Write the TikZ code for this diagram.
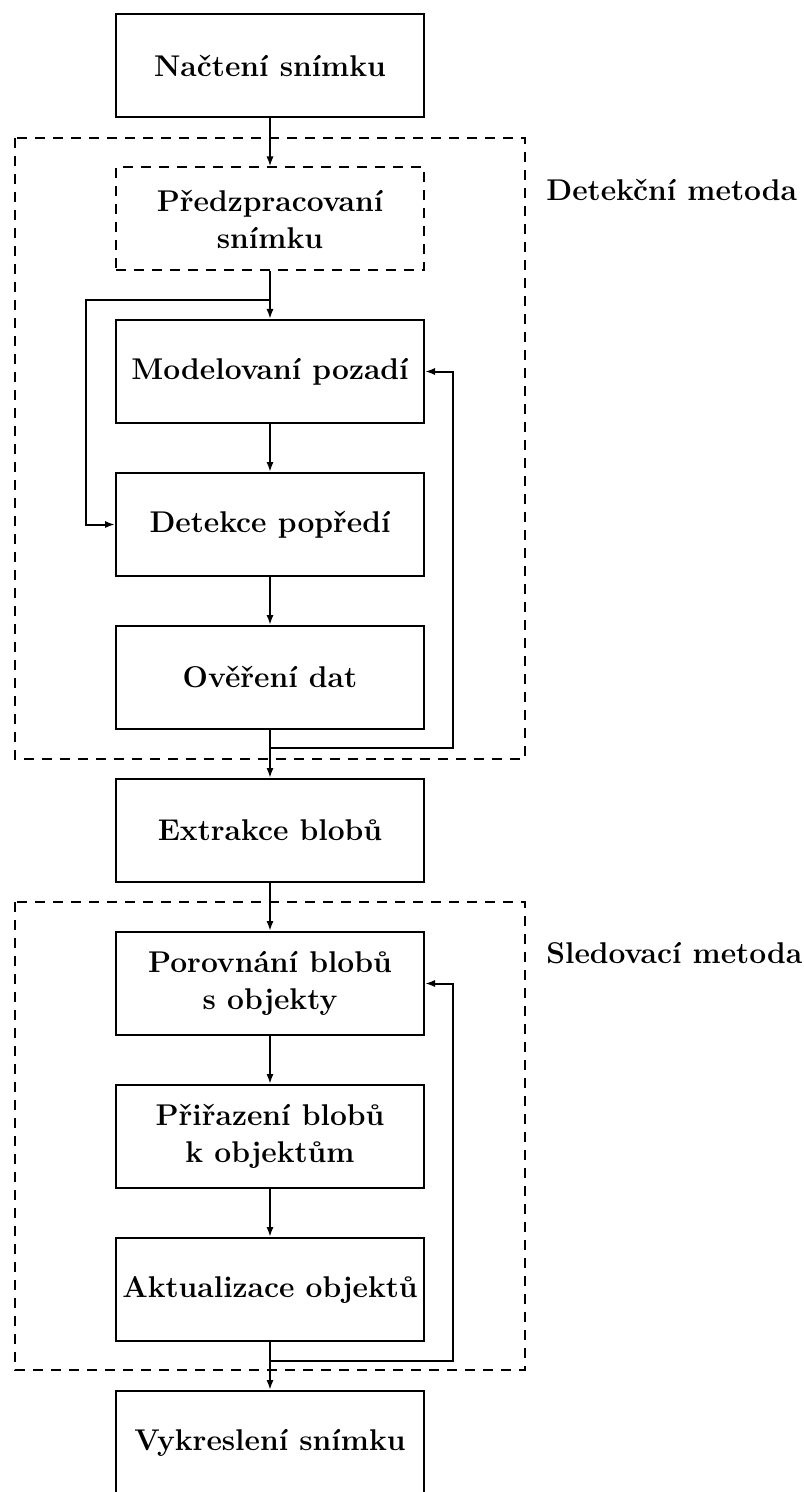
\documentclass[tikz,border=0pt]{standalone}
\usepackage{fontspec}
\usetikzlibrary{arrows.meta}
\tikzset{
  stepbox/.style={draw, line width=1pt, minimum width=154pt, minimum height=51.5pt, inner sep=0pt, align=center, font=\fontsize{15}{18.5}\selectfont\bfseries},
  dashbox/.style={stepbox, dash pattern=on 5pt off 4pt},
  grp/.style={draw, line width=1pt, dash pattern=on 5pt off 4pt},
  arr/.style={line width=1pt, -{Latex[length=5pt,width=3.6pt]}},
  lbl/.style={anchor=west, inner sep=0pt, font=\fontsize{15}{18.5}\selectfont\bfseries}
}
\begin{document}
\begin{tikzpicture}[x=0.5pt,y=-0.5pt]
\useasboundingbox (0,0) rectangle (803,1492);
\begin{scope}
\clip (0,0) rectangle (803,1492);
\draw[grp] (15,138) rectangle (525,759);
\draw[grp] (15,902) rectangle (525,1370);
\node[lbl] (ldet) at (546,190) {Detekční metoda};
\node[lbl] (lsle) at (546,953) {Sledovací metoda};

\node[stepbox] (nac) at (270,65.5) {Načtení snímku};
\node[dashbox] (pre) at (270,219) {Předzpracovaní\\snímku};
\node[stepbox] (mod) at (270,371.5) {Modelovaní pozadí};
\node[stepbox] (det) at (270,524.5) {Detekce popředí};
\node[stepbox] (ove) at (270,677.5) {Ověření dat};
\node[stepbox] (ext) at (270,830.5) {Extrakce blobů};
\node[stepbox] (por) at (270,983.5) {Porovnání blobů\\s objekty};
\node[stepbox] (pri) at (270,1136.5) {Přiřazení blobů\\k objektům};
\node[stepbox] (akt) at (270,1289.5) {Aktualizace objektů};
\node[stepbox] (vyk) at (270,1442.5) {Vykreslení snímku};

\coordinate (j1) at (270,300);
\coordinate (l1) at (86,300);
\coordinate (j2) at (270,748);
\coordinate (r1) at (453,748);
\coordinate (j3) at (270,1361);
\coordinate (r2) at (453,1361);

\draw[arr] (nac) -- (pre);
\draw[arr] (pre) -- (mod);
\draw[arr] (j1) -- (l1) |- (det.west);
\draw[arr] (mod) -- (det);
\draw[arr] (det) -- (ove);
\draw[arr] (ove) -- (ext);
\draw[arr] (j2) -- (r1) |- (mod.east);
\draw[arr] (ext) -- (por);
\draw[arr] (por) -- (pri);
\draw[arr] (pri) -- (akt);
\draw[arr] (akt) -- (vyk);
\draw[arr] (j3) -- (r2) |- (por.east);
\end{scope}
\end{tikzpicture}
\end{document}
